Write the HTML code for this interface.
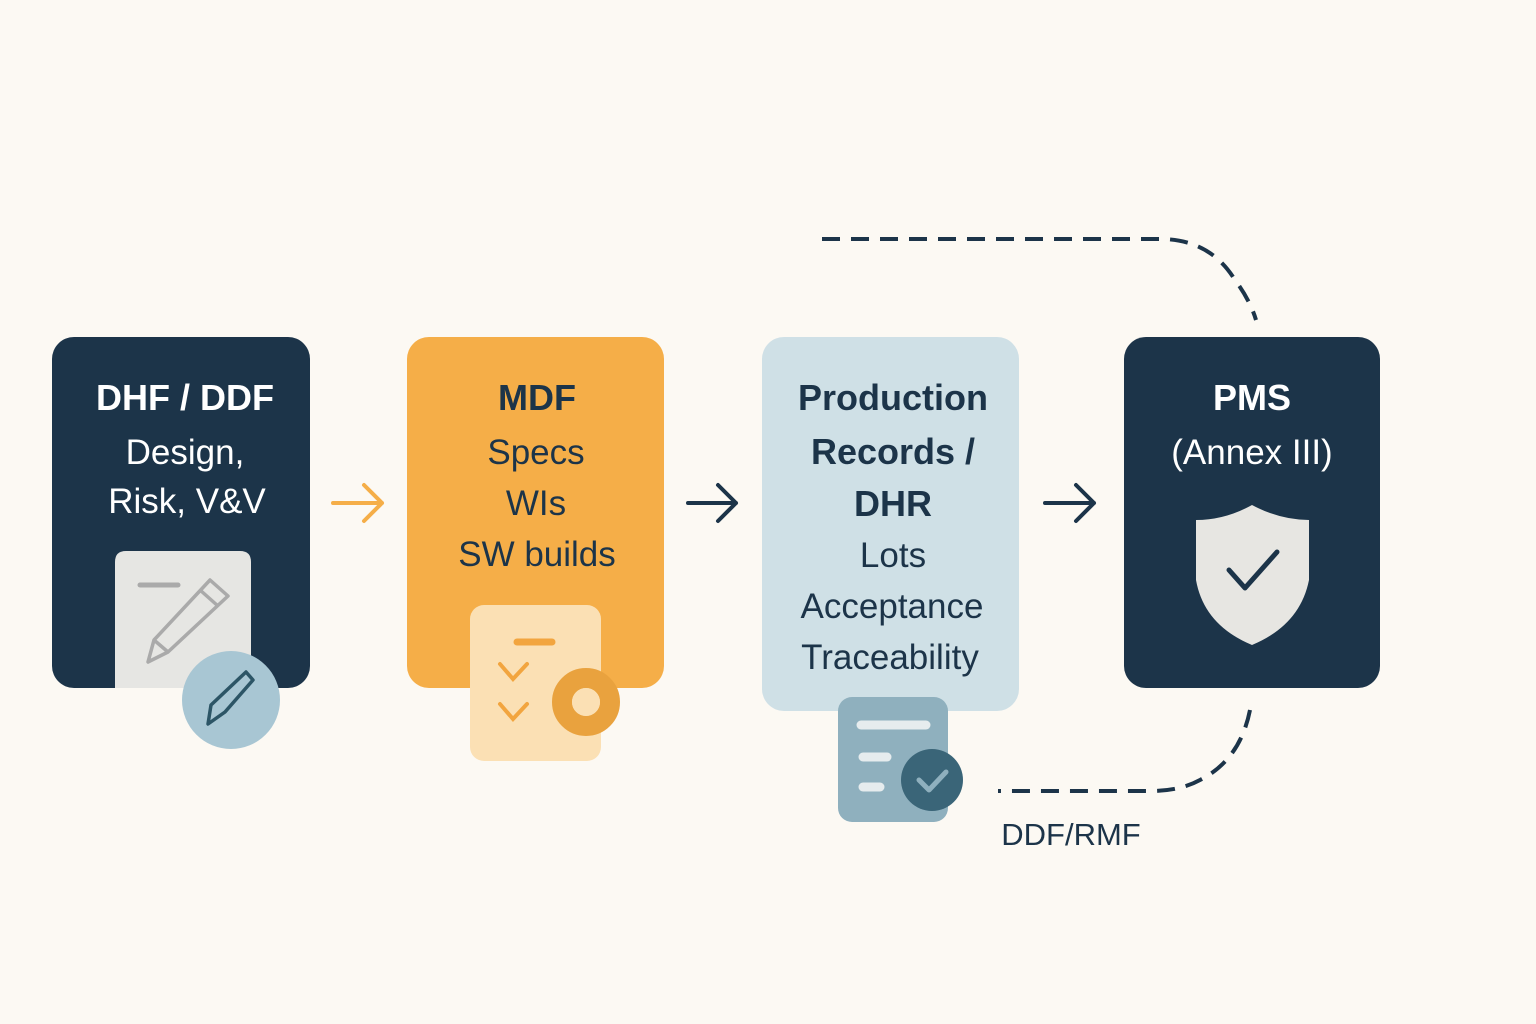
<!DOCTYPE html>
<html><head><style>body{margin:0;background:#fcf9f3}svg{display:block}</style></head><body>
<svg width="1536" height="1024" viewBox="0 0 1536 1024" xmlns="http://www.w3.org/2000/svg" font-family="Liberation Sans, sans-serif" text-anchor="middle">
<rect width="1536" height="1024" fill="#fcf9f3"/>
<!-- dashed connectors -->
<path d="M822 239 H1160 Q1210 239 1235 280 Q1250 300 1256 320" fill="none" stroke="#1c3449" stroke-width="4" stroke-dasharray="18 11"/>
<path d="M1250 710 Q1240 760 1200 780 Q1180 791 1150 791 H998" fill="none" stroke="#1c3449" stroke-width="4" stroke-dasharray="18 11"/>
<text x="1071" y="845" font-size="31" fill="#1c3449">DDF/RMF</text>
<!-- boxes -->
<rect x="52" y="337" width="258" height="351" rx="22" fill="#1c3449"/>
<rect x="407" y="337" width="257" height="351" rx="22" fill="#f5ae48"/>
<rect x="762" y="337" width="257" height="374" rx="22" fill="#cfe0e6"/>
<rect x="1124" y="337" width="256" height="351" rx="22" fill="#1c3449"/>
<!-- arrows -->
<g fill="none" stroke-width="4" stroke-linecap="round" stroke-linejoin="round">
<path d="M333 503 H382 M364 485 L382 503 L364 521" stroke="#f5ae48"/>
<path d="M688 503 H736 M718 485 L736 503 L718 521" stroke="#1c3449"/>
<path d="M1045 503 H1094 M1076 485 L1094 503 L1076 521" stroke="#1c3449"/>
</g>
<!-- text -->
<g font-size="36">
<text x="185" y="410" fill="#fff" font-weight="bold" font-size="36">DHF / DDF</text>
<text x="185" y="464" fill="#fff" font-size="35">Design,</text>
<text x="187" y="513" fill="#fff" font-size="35">Risk, V&amp;V</text>
<text x="537" y="410" fill="#1c3449" font-weight="bold">MDF</text>
<text x="536" y="464" fill="#1c3449" font-size="35">Specs</text>
<text x="536" y="515" fill="#1c3449" font-size="35">WIs</text>
<text x="537" y="566" fill="#1c3449" font-size="35">SW builds</text>
<text x="893" y="410" fill="#1c3449" font-weight="bold">Production</text>
<text x="893" y="464" fill="#1c3449" font-weight="bold">Records /</text>
<text x="893" y="516" fill="#1c3449" font-weight="bold">DHR</text>
<text x="893" y="567" fill="#1c3449" font-size="35">Lots</text>
<text x="892" y="618" fill="#1c3449" font-size="35">Acceptance</text>
<text x="890" y="669" fill="#1c3449" font-size="35">Traceability</text>
<text x="1252" y="410" fill="#fff" font-weight="bold">PMS</text>
<text x="1252" y="464" fill="#fff" font-size="35">(Annex III)</text>
</g>
<!-- icon 1 -->
<path d="M115 688 V562 Q115 551 126 551 H240 Q251 551 251 562 V688 Z" fill="#e6e6e3"/>
<line x1="140" y1="585" x2="178" y2="585" stroke="#aaa" stroke-width="5" stroke-linecap="round"/>
<g fill="none" stroke="#aaa" stroke-width="3.5" stroke-linejoin="round">
<path d="M210 580 L228 596 L168 652 L148 662 L154 640 Z"/><path d="M200 590 L218 606"/><path d="M154 640 L168 652"/>
</g>
<circle cx="231" cy="700" r="49" fill="#a8c6d3"/>
<path d="M246 672 L253 680 L225 712 L208 724 L211 705 Z" fill="none" stroke="#2c5566" stroke-width="3.5" stroke-linejoin="round"/>
<!-- icon 2 -->
<rect x="470" y="605" width="131" height="156" rx="14" fill="#fbe0b4"/>
<line x1="517" y1="642" x2="552" y2="642" stroke="#f2a53f" stroke-width="7" stroke-linecap="round"/>
<path d="M500 664 L513 679 L527 664 M500 704 L513 719 L527 704" fill="none" stroke="#f2a53f" stroke-width="4" stroke-linecap="round"/>
<circle cx="586" cy="702" r="24" fill="none" stroke="#e9a23e" stroke-width="20"/>
<circle cx="586" cy="702" r="14" fill="#fbe0b4"/>
<!-- icon 3 -->
<rect x="838" y="697" width="110" height="125" rx="14" fill="#8fb0be"/>
<g stroke="#e6ecee" stroke-width="9" stroke-linecap="round"><line x1="861" y1="725" x2="926" y2="725"/><line x1="863" y1="757" x2="887" y2="757"/><line x1="863" y1="787" x2="880" y2="787"/></g>
<circle cx="932" cy="780" r="31" fill="#3a6578"/>
<path d="M919 780 L929 790 L946 772" fill="none" stroke="#8fb0be" stroke-width="5" stroke-linecap="round" stroke-linejoin="round"/>
<!-- shield -->
<path d="M1252 505 Q1280 520 1309 520 V580 Q1300 625 1252 645 Q1204 625 1196 580 V520 Q1225 520 1252 505 Z" fill="#e7e6e2"/>
<path d="M1229 570 L1245 588 L1277 552" fill="none" stroke="#1c3449" stroke-width="5" stroke-linecap="round" stroke-linejoin="round"/>
</svg>
</body></html>
